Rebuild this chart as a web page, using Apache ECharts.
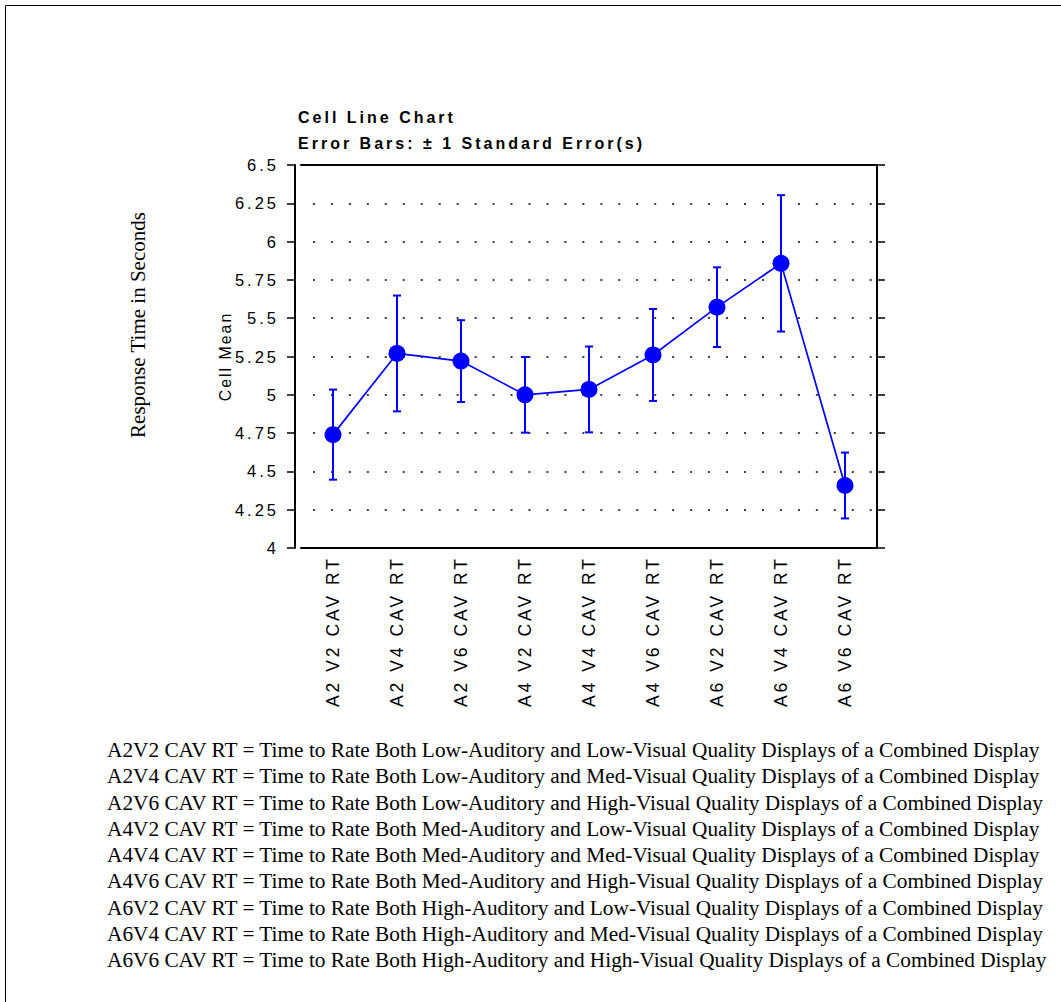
<!DOCTYPE html>
<html>
<head>
<meta charset="utf-8">
<title>Cell Line Chart</title>
<script src="https://cdn.jsdelivr.net/npm/echarts@6/dist/echarts.min.js"></script>
<style>
  html, body { margin: 0; padding: 0; background: #ffffff; overflow: hidden; }
  #chart { position: absolute; left: 0; top: 0; width: 1061px; height: 1002px; }
  #chart svg { display: block; }
  /* the sans-serif lettering is set with wide tracking */
  #chart text[style*="Liberation Sans"] { letter-spacing: 3px; }
  /* the value axis name is tracked a little tighter */
  #chart text[style*="15.9px"] { letter-spacing: 2px; }
</style>
</head>
<body>
<div id="chart"></div>
<script>
// Cells of the design (auditory level x visual level)
const categories = [
  'A2 V2 CAV RT', 'A2 V4 CAV RT', 'A2 V6 CAV RT',
  'A4 V2 CAV RT', 'A4 V4 CAV RT', 'A4 V6 CAV RT',
  'A6 V2 CAV RT', 'A6 V4 CAV RT', 'A6 V6 CAV RT'
];

// Cell means of the response time (seconds)
const cellMeans = [4.74, 5.27, 5.22, 5.00, 5.035, 5.26, 5.572, 5.858, 4.408];

// One standard error for each cell
const standardErrors = [0.294, 0.378, 0.267, 0.247, 0.28, 0.30, 0.26, 0.445, 0.215];

// Value axis ticks
const yTicks = [4, 4.25, 4.5, 4.75, 5, 5.25, 5.5, 5.75, 6, 6.25, 6.5];

// Key to the cell names
const footnotes = [
  'A2V2 CAV RT = Time to Rate Both Low-Auditory and Low-Visual Quality Displays of a Combined Display',
  'A2V4 CAV RT = Time to Rate Both Low-Auditory and Med-Visual Quality Displays of a Combined Display',
  'A2V6 CAV RT = Time to Rate Both Low-Auditory and High-Visual Quality Displays of a Combined Display',
  'A4V2 CAV RT = Time to Rate Both Med-Auditory and Low-Visual Quality Displays of a Combined Display',
  'A4V4 CAV RT = Time to Rate Both Med-Auditory and Med-Visual Quality Displays of a Combined Display',
  'A4V6 CAV RT = Time to Rate Both Med-Auditory and High-Visual Quality Displays of a Combined Display',
  'A6V2 CAV RT = Time to Rate Both High-Auditory and Low-Visual Quality Displays of a Combined Display',
  'A6V4 CAV RT = Time to Rate Both High-Auditory and Med-Visual Quality Displays of a Combined Display',
  'A6V6 CAV RT = Time to Rate Both High-Auditory and High-Visual Quality Displays of a Combined Display'
];

const BLUE = '#0000ff';
const SANS = 'Liberation Sans';
const SERIF = 'Liberation Serif';

const errorData = cellMeans.map((m, i) => [i, m + standardErrors[i], m - standardErrors[i]]);

const axisLineStyle = { color: '#000', width: 2 };
const tickStyle = { color: '#000', width: 1.5 };

const chart = echarts.init(document.getElementById('chart'), null, { renderer: 'svg' });

chart.setOption({
  backgroundColor: '#ffffff',
  animation: false,
  title: {
    text: 'Cell Line Chart',
    subtext: 'Error Bars: \u00b1 1 Standard Error(s)',
    left: 293,
    top: 104,
    itemGap: 10,
    textStyle: { fontFamily: SANS, fontWeight: 'bold', fontSize: 16, color: '#000' },
    subtextStyle: { fontFamily: SANS, fontWeight: 'bold', fontSize: 16, color: '#000' }
  },
  grid: { left: 301, top: 165, width: 576, height: 383, containLabel: false },
  xAxis: [
    {
      type: 'category',
      data: categories,
      position: 'bottom',
      boundaryGap: true,
      axisLine: { lineStyle: axisLineStyle },
      axisTick: { alignWithLabel: true, length: 5, lineStyle: tickStyle },
      axisLabel: {
        interval: 0, rotate: 90, margin: 8,
        fontFamily: SANS, fontSize: 17.5, color: '#000'
      },
      splitLine: { show: false }
    },
    {
      type: 'category',
      data: categories,
      position: 'top',
      boundaryGap: true,
      axisLine: { lineStyle: axisLineStyle },
      axisTick: { alignWithLabel: true, length: 5, lineStyle: tickStyle },
      axisLabel: { show: false },
      splitLine: { show: false }
    }
  ],
  yAxis: [
    {
      type: 'value',
      position: 'left',
      offset: 6,
      min: yTicks[0],
      max: yTicks[yTicks.length - 1],
      interval: yTicks[1] - yTicks[0],
      name: 'Cell Mean',
      nameLocation: 'middle',
      nameGap: 62,
      nameTextStyle: { fontFamily: SANS, fontSize: 15.9, color: '#000' },
      axisLine: { show: true, lineStyle: axisLineStyle },
      axisTick: { show: true, length: 8, lineStyle: tickStyle },
      axisLabel: { margin: 16, fontFamily: SANS, fontSize: 16.5, color: '#000' },
      splitLine: {
        show: true,
        lineStyle: { color: '#000', width: 1.6, type: [2, 15.96], dashOffset: 5.66 }
      }
    },
    {
      type: 'value',
      position: 'right',
      min: yTicks[0],
      max: yTicks[yTicks.length - 1],
      interval: yTicks[1] - yTicks[0],
      axisLine: { show: true, lineStyle: axisLineStyle },
      axisTick: { show: true, length: 8, lineStyle: tickStyle },
      axisLabel: { show: false },
      splitLine: { show: false }
    }
  ],
  series: [
    {
      name: 'Standard error',
      type: 'custom',
      xAxisIndex: 0,
      yAxisIndex: 0,
      data: errorData,
      encode: { x: 0, y: [1, 2] },
      z: 3,
      renderItem: function (params, api) {
        const idx = api.value(0);
        const hi = api.coord([idx, api.value(1)]);
        const lo = api.coord([idx, api.value(2)]);
        const cap = 4;
        const st = { stroke: BLUE, lineWidth: 2, fill: null };
        return {
          type: 'group',
          children: [
            { type: 'line', shape: { x1: hi[0], y1: hi[1], x2: lo[0], y2: lo[1] }, style: st },
            { type: 'line', shape: { x1: hi[0] - cap, y1: hi[1], x2: hi[0] + cap, y2: hi[1] }, style: st },
            { type: 'line', shape: { x1: lo[0] - cap, y1: lo[1], x2: lo[0] + cap, y2: lo[1] }, style: st }
          ]
        };
      }
    },
    {
      name: 'Cell Mean',
      type: 'line',
      xAxisIndex: 0,
      yAxisIndex: 0,
      data: cellMeans,
      z: 4,
      symbol: 'circle',
      symbolSize: 17,
      showAllSymbol: true,
      itemStyle: { color: BLUE },
      lineStyle: { color: BLUE, width: 1.7 }
    }
  ],
  graphic: [
    {
      // page frame: only its top and left edges fall inside the page
      type: 'polyline',
      silent: true,
      shape: { points: [[5.5, 1002], [5.5, 5.5], [1061, 5.5]] },
      style: { fill: null, stroke: '#000', lineWidth: 1 }
    },
    {
      type: 'text',
      silent: true,
      x: 138,
      y: 325,
      rotation: Math.PI / 2,
      style: {
        text: 'Response Time in Seconds',
        font: '21px "' + SERIF + '"',
        fill: '#000',
        align: 'center',
        verticalAlign: 'middle'
      }
    },
    {
      type: 'text',
      silent: true,
      x: 107,
      y: 737,
      style: {
        text: footnotes.join('\n'),
        font: '21.3px "' + SERIF + '"',
        lineHeight: 26.25,
        fill: '#000',
        align: 'left',
        verticalAlign: 'top'
      }
    }
  ]
});
</script>
</body>
</html>
